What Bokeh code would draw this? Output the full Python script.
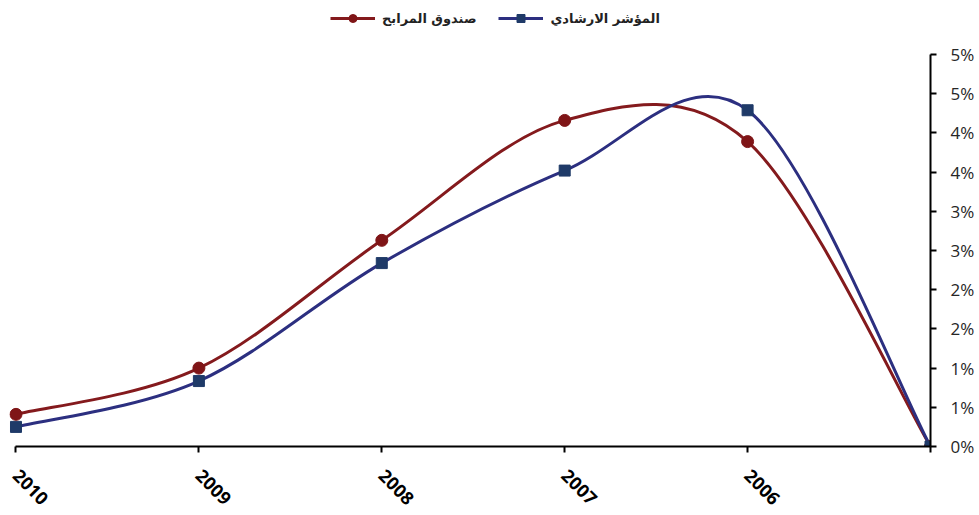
import numpy as np
from bokeh.plotting import figure
from bokeh.models import (Range1d, FixedTicker, LinearAxis, Legend, LegendItem,
                          ColumnDataSource)
from bokeh.embed import file_html
from bokeh.resources import INLINE

# ---------------- data ----------------
years = ["2010", "2009", "2008", "2007", "2006", ""]
fund = [0.41, 1.00, 2.63, 4.16, 3.89, 0.0]      # صندوق المرابح
bench = [0.25, 0.835, 2.34, 3.52, 4.29, 0.0]    # المؤشر الارشادي
y_ticks = [0.0, 0.5, 1.0, 1.5, 2.0, 2.5, 3.0, 3.5, 4.0, 4.5, 5.0]
y_tick_labels = ["0%", "1%", "1%", "2%", "2%", "3%", "3%", "4%", "4%", "5%", "5%"]
fund_name = "صندوق المرابح"
bench_name = "المؤشر الارشادي"

RED = "#841a1d"
RED_M = "#7f1517"
BLUE = "#2c2f80"
BLUE_M = "#1f3a68"

xs = list(range(len(years)))


def smooth_source(x, y):
    """Catmull-Rom style Bezier control points (smoothed line)."""
    x = np.asarray(x, float)
    y = np.asarray(y, float)
    n = len(x)
    d = dict(x0=[], y0=[], x1=[], y1=[], cx0=[], cy0=[], cx1=[], cy1=[])
    for i in range(n - 1):
        im1 = max(i - 1, 0)
        ip2 = min(i + 2, n - 1)
        d["x0"].append(x[i]); d["y0"].append(y[i])
        d["x1"].append(x[i + 1]); d["y1"].append(y[i + 1])
        d["cx0"].append(x[i] + (x[i + 1] - x[im1]) / 6.0)
        d["cy0"].append(y[i] + (y[i + 1] - y[im1]) / 6.0)
        d["cx1"].append(x[i + 1] - (x[ip2] - x[i]) / 6.0)
        d["cy1"].append(y[i + 1] - (y[ip2] - y[i]) / 6.0)
    return ColumnDataSource(d)


p = figure(width=979, height=515,
           x_range=Range1d(-0.0355, 5.0), y_range=Range1d(0.0, 5.69),
           output_backend="svg", toolbar_location=None,
           x_axis_location=None, y_axis_location=None,
           min_border_left=9, min_border_right=49,
           min_border_top=0, min_border_bottom=69)
p.outline_line_color = None
p.grid.visible = False
p.background_fill_color = "white"

# lines
r_fund_line = p.bezier(x0="x0", y0="y0", x1="x1", y1="y1", cx0="cx0", cy0="cy0",
                       cx1="cx1", cy1="cy1", source=smooth_source(xs, fund),
                       line_color=RED, line_width=3)
r_bench_line = p.bezier(x0="x0", y0="y0", x1="x1", y1="y1", cx0="cx0", cy0="cy0",
                        cx1="cx1", cy1="cy1", source=smooth_source(xs, bench),
                        line_color=BLUE, line_width=3)

# markers
r_fund_pts = p.scatter(xs, fund, marker="circle", size=12,
                       fill_color=RED_M, line_color=RED_M)
r_bench_pts = p.scatter(xs, bench, marker="square", size=11,
                        fill_color=BLUE_M, line_color=BLUE_M)

# x axis
xaxis = LinearAxis(ticker=FixedTicker(ticks=xs),
                   major_label_overrides={i: years[i] for i in xs},
                   bounds=(0, 5))
xaxis.axis_line_color = "black"
xaxis.axis_line_width = 2
xaxis.major_tick_line_color = "black"
xaxis.major_tick_line_width = 2
xaxis.major_tick_out = 6
xaxis.major_tick_in = 0
xaxis.minor_tick_line_color = None
xaxis.major_label_orientation = -np.pi / 4
xaxis.major_label_standoff = 20
xaxis.major_label_text_font = "Open Sans"
xaxis.major_label_text_font_style = "bold"
xaxis.major_label_text_font_size = "18px"
xaxis.major_label_text_color = "black"
p.add_layout(xaxis, "below")

# y axis (right)
yaxis = LinearAxis(ticker=FixedTicker(ticks=y_ticks),
                   major_label_overrides={t: l for t, l in zip(y_ticks, y_tick_labels)},
                   bounds=(0, 5))
yaxis.axis_line_color = "black"
yaxis.axis_line_width = 2
yaxis.major_tick_line_color = "black"
yaxis.major_tick_line_width = 2
yaxis.major_tick_out = 6
yaxis.major_tick_in = 0
yaxis.minor_tick_line_color = None
yaxis.major_label_standoff = 14
yaxis.major_label_text_font = "Open Sans"
yaxis.major_label_text_font_size = "17px"
yaxis.major_label_text_color = "#262626"
p.add_layout(yaxis, "right")

legend = Legend(items=[LegendItem(label=fund_name, renderers=[r_fund_line, r_fund_pts]),
                       LegendItem(label=bench_name, renderers=[r_bench_line, r_bench_pts])],
                location=(321, 418), orientation="horizontal",
                glyph_width=45, glyph_height=20, label_standoff=7, spacing=22,
                padding=4, margin=0, border_line_color=None, background_fill_alpha=0,
                label_text_font="DejaVu Sans", label_text_font_size="13px",
                label_text_font_style="bold", label_text_color="#222222")
p.add_layout(legend)

with open("out.html", "w", encoding="utf-8") as f:
    f.write(file_html(p, INLINE))
